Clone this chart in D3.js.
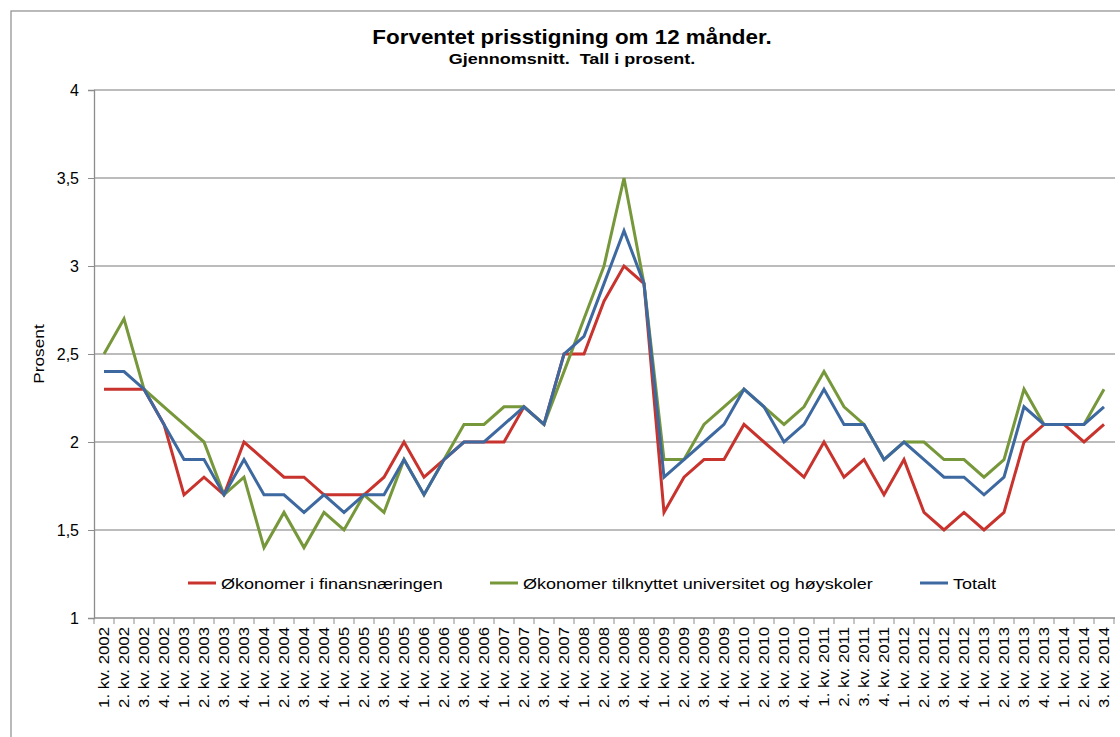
<!DOCTYPE html>
<html>
  <head>
    <meta charset="utf-8" />
    <title>Forventet prisstigning</title>
    <script src="https://d3js.org/d3.v7.min.js"></script>
    <style>
      body { margin: 0; background: #fff; }
      text { font-family: "Liberation Sans", Arial, sans-serif; fill: #000; white-space: pre; }
    </style>
  </head>
  <body>
    <svg id="chart" width="1120" height="737"></svg>

    <script>
        var years = ["2002","2003","2004","2005","2006","2007","2008","2009","2010","2011","2012","2013","2014"];
        var quarters = [];
        years.forEach(function(yr) {
            [1,2,3,4].forEach(function(q) {
                if (yr === "2014" && q === 4) return;
                quarters.push(q + ". kv. " + yr);
            });
        });

        var finans = [2.3,2.3,2.3,2.1, 1.7,1.8,1.7,2.0, 1.9,1.8,1.8,1.7, 1.7,1.7,1.8,2.0,
                      1.8,1.9,2.0,2.0, 2.0,2.2,2.1,2.5, 2.5,2.8,3.0,2.9, 1.6,1.8,1.9,1.9,
                      2.1,2.0,1.9,1.8, 2.0,1.8,1.9,1.7, 1.9,1.6,1.5,1.6, 1.5,1.6,2.0,2.1,
                      2.1,2.0,2.1];
        var universitet = [2.5,2.7,2.3,2.2, 2.1,2.0,1.7,1.8, 1.4,1.6,1.4,1.6, 1.5,1.7,1.6,1.9,
                      1.7,1.9,2.1,2.1, 2.2,2.2,2.1,2.4, 2.7,3.0,3.5,2.9, 1.9,1.9,2.1,2.2,
                      2.3,2.2,2.1,2.2, 2.4,2.2,2.1,1.9, 2.0,2.0,1.9,1.9, 1.8,1.9,2.3,2.1,
                      2.1,2.1,2.3];
        var totalt = [2.4,2.4,2.3,2.1, 1.9,1.9,1.7,1.9, 1.7,1.7,1.6,1.7, 1.6,1.7,1.7,1.9,
                      1.7,1.9,2.0,2.0, 2.1,2.2,2.1,2.5, 2.6,2.9,3.2,2.9, 1.8,1.9,2.0,2.1,
                      2.3,2.2,2.0,2.1, 2.3,2.1,2.1,1.9, 2.0,1.9,1.8,1.8, 1.7,1.8,2.2,2.1,
                      2.1,2.1,2.2];
        var yTicks = [1, 1.5, 2, 2.5, 3, 3.5, 4];

        var series = [
            { name: "Økonomer i finansnæringen", values: finans, color: "#C8332D" },
            { name: "Økonomer tilknyttet universitet og høyskoler", values: universitet, color: "#77973B" },
            { name: "Totalt", values: totalt, color: "#3D68A0" }
        ];

        var svg = d3.select("#chart");
        var plotLeft = 94, plotRight = 1114, plotTop = 90, plotBottom = 618;
        var stretch = 1.2;   // the original's text is drawn wider than it is tall

        // frame of the chart area
        svg.append("rect")
            .attr("x", 11).attr("y", 11)
            .attr("width", 1200).attr("height", 800)
            .attr("fill", "none").attr("stroke", "#8c8c8c").attr("stroke-width", 1.2);

        svg.append("text")
            .attr("transform", "translate(572,44) scale(1.12,1)")
            .attr("text-anchor", "middle")
            .style("font-size", "20px").style("font-weight", "bold")
            .text("Forventet prisstigning om 12 månder.");
        svg.append("text")
            .attr("transform", "translate(572,64) scale(" + stretch + ",1)")
            .attr("text-anchor", "middle")
            .style("font-size", "15px").style("font-weight", "bold")
            .text("Gjennomsnitt.  Tall i prosent.");

        var x = d3.scaleBand().domain(quarters).range([plotLeft, plotRight]);
        var y = d3.scaleLinear().domain([1, 4]).range([plotBottom, plotTop]);
        var nb = d3.formatLocale({ decimal: ",", thousands: " ", grouping: [3], currency: ["", ""] });
        var fmt = nb.format("~g");

        // gridlines
        svg.append("g").selectAll("line")
            .data(yTicks.filter(function(d) { return d > 1; }))
            .enter().append("line")
            .attr("x1", plotLeft).attr("x2", plotRight + 1)
            .attr("y1", function(d) { return y(d); })
            .attr("y2", function(d) { return y(d); })
            .attr("stroke", "#a6a6a6").attr("stroke-width", 1.3);

        // y axis
        var yAxis = svg.append("g")
            .attr("transform", "translate(" + plotLeft + ",0)")
            .call(d3.axisLeft(y).tickValues(yTicks).tickFormat(fmt).tickSize(6).tickPadding(9));
        yAxis.select(".domain").attr("stroke", "#8c8c8c").attr("stroke-width", 1.3);
        yAxis.selectAll(".tick line").attr("stroke", "#8c8c8c");
        yAxis.selectAll("text").style("font-size", "16px").style("font-family", "Liberation Sans, Arial, sans-serif");

        svg.append("text")
            .attr("transform", "translate(44," + ((plotTop + plotBottom) / 2) + ") rotate(-90) scale(1.15,1)")
            .attr("text-anchor", "middle")
            .style("font-size", "15px")
            .text("Prosent");

        // x axis
        var xAxis = svg.append("g")
            .attr("transform", "translate(0," + plotBottom + ")");
        xAxis.append("line")
            .attr("x1", plotLeft).attr("x2", plotRight + 1)
            .attr("stroke", "#8c8c8c").attr("stroke-width", 1.3);
        xAxis.selectAll(".xtick")
            .data(quarters.concat(["end"]))
            .enter().append("line")
            .attr("class", "xtick")
            .attr("x1", function(d, i) { return i < quarters.length ? x(d) : plotRight; })
            .attr("x2", function(d, i) { return i < quarters.length ? x(d) : plotRight; })
            .attr("y1", 0).attr("y2", 6)
            .attr("stroke", "#8c8c8c");
        xAxis.selectAll(".xlabel")
            .data(quarters)
            .enter().append("text")
            .attr("class", "xlabel")
            .attr("transform", function(d) {
                return "translate(" + (x(d) + x.bandwidth() / 2 + 5) + ",9) rotate(-90) scale(" + stretch + ",1)";
            })
            .attr("text-anchor", "end")
            .style("font-size", "14px")
            .text(function(d) { return d; });

        // lines
        var line = d3.line()
            .x(function(d, i) { return x(quarters[i]) + x.bandwidth() / 2; })
            .y(function(d) { return y(d); });

        svg.append("g").selectAll("path")
            .data(series)
            .enter().append("path")
            .attr("d", function(s) { return line(s.values); })
            .attr("fill", "none")
            .attr("stroke", function(s) { return s.color; })
            .attr("stroke-width", 3)
            .attr("stroke-linejoin", "miter");

        // legend
        var legendX = [188, 490, 920];
        var legend = svg.append("g").selectAll("g")
            .data(series)
            .enter().append("g")
            .attr("transform", function(d, i) { return "translate(" + legendX[i] + ",583)"; });
        legend.append("line")
            .attr("x1", 0).attr("x2", 28)
            .attr("stroke", function(d) { return d.color; })
            .attr("stroke-width", 3);
        legend.append("text")
            .attr("transform", "translate(33,5.5) scale(" + stretch + ",1)")
            .style("font-size", "15px")
            .text(function(d) { return d.name; });
    </script>
  </body>
</html>
